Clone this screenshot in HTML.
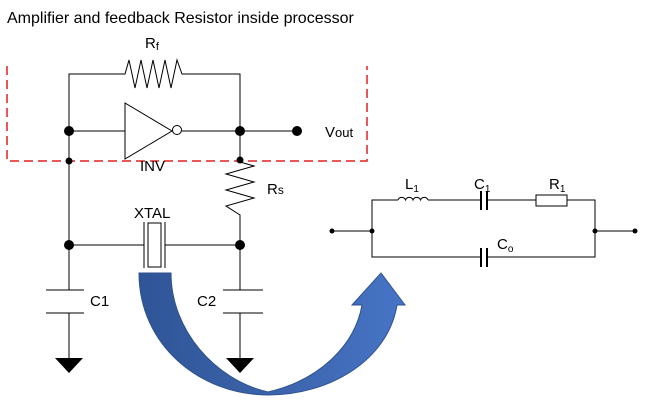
<!DOCTYPE html>
<html><head><meta charset="utf-8"><style>
body{margin:0;background:#fff;width:645px;height:402px;overflow:hidden}
svg{display:block}
text{font-family:"Liberation Sans","DejaVu Sans",sans-serif;fill:#000}
</style></head><body>
<svg width="645" height="402" viewBox="0 0 645 402">
<defs><linearGradient id="g" x1="0" x2="1" y1="0" y2="0"><stop offset="0" stop-color="#2f5597"/><stop offset="0.45" stop-color="#3a62a8"/><stop offset="1" stop-color="#4774c6"/></linearGradient></defs>
<text x="7" y="23" font-size="16">Amplifier and feedback Resistor inside processor</text>
<g stroke="#000" stroke-width="1" fill="none">
<polyline points="69,131 69,74 125,74 129,60 135,88 141,60 147,88 153,60 159,88 165,60 171,88 177,60 182,74 240,74 240,131"/>
<line x1="69" y1="131" x2="125" y2="131"/>
<polygon points="125,103 125,159 172,131"/>
<circle cx="177" cy="130" r="4.5" fill="#fff"/>
<line x1="182" y1="131" x2="297" y2="131"/>
<line x1="69" y1="131" x2="69" y2="290"/>
<line x1="69" y1="313" x2="69" y2="360"/>
<polyline points="240,131 240,162 254,166 226,174 254,182 226,190 254,198 226,206 240,215 240,290"/>
<line x1="240" y1="313" x2="240" y2="360"/>
<line x1="69" y1="245" x2="144" y2="245"/>
<line x1="165" y1="245" x2="240" y2="245"/>
<line x1="144" y1="222" x2="144" y2="268"/>
<line x1="165" y1="222" x2="165" y2="268"/>
<rect x="148" y="223" width="13" height="44"/>
<line x1="46" y1="290" x2="84" y2="290"/><line x1="46" y1="313" x2="84" y2="313"/>
<line x1="223" y1="290" x2="263" y2="290"/><line x1="223" y1="313" x2="263" y2="313"/>
</g>
<polyline points="7,66 7,161 367,161 367,66" fill="none" stroke="#e02020" stroke-width="1.5" stroke-dasharray="9,5"/>
<g fill="#000">
<circle cx="69" cy="131" r="5"/><circle cx="240" cy="131" r="5"/><circle cx="297" cy="131" r="5"/>
<circle cx="69" cy="161" r="3.5"/><circle cx="240" cy="160" r="3.5"/>
<circle cx="69" cy="245" r="5"/><circle cx="240" cy="245" r="5"/>
<polygon points="55,358 83,358 69,373"/><polygon points="226,358 254,358 240,373"/>
</g>
<text x="145" y="48" font-size="15">R<tspan font-size="11" dy="2">f</tspan></text>
<text x="325" y="137" font-size="15">V<tspan font-size="13">out</tspan></text>
<text x="140" y="171" font-size="15">INV</text>
<text x="267" y="194" font-size="15">R<tspan font-size="12">s</tspan></text>
<text x="134" y="218" font-size="15">XTAL</text>
<text x="90" y="306" font-size="15">C1</text>
<text x="197" y="306" font-size="15">C2</text>
<path d="M139,273 L171,273 C171,330 215,380 268,392 C320,380 355,345 362,305 L352,305 L381,273 L405,305 L397,305 C388,360 330,395 268,395 C200,395 139,345 139,273 Z" fill="url(#g)" stroke="#2f528f" stroke-width="1"/>
<g stroke="#000" stroke-width="1" fill="none">
<line x1="332" y1="231" x2="372" y2="231"/><line x1="595" y1="231" x2="635" y2="231"/>
<polyline points="372,231 372,200 398,200"/>
<path d="M398,200 a4,4 0 0 1 7.5,0 a4,4 0 0 1 7.5,0 a4,4 0 0 1 7.5,0 a4,4 0 0 1 7.5,0"/>
<line x1="428" y1="200" x2="481" y2="200"/>
<line x1="481" y1="191" x2="481" y2="210" stroke-width="2"/><line x1="487" y1="191" x2="487" y2="210" stroke-width="2"/>
<line x1="487" y1="200" x2="536" y2="200"/>
<rect x="536" y="195" width="31" height="11"/>
<polyline points="567,200 595,200 595,257 487,257"/>
<polyline points="372,231 372,257 481,257"/>
<line x1="481" y1="248" x2="481" y2="267" stroke-width="2"/><line x1="487" y1="248" x2="487" y2="267" stroke-width="2"/>
</g>
<g fill="#000"><circle cx="332" cy="231" r="2.5"/><circle cx="372" cy="231" r="2.5"/><circle cx="595" cy="231" r="2.5"/><circle cx="635" cy="231" r="2.5"/></g>
<text x="405" y="189" font-size="15">L<tspan font-size="10" dy="3">1</tspan></text>
<text x="474" y="189" font-size="15">C<tspan font-size="10" dy="3">1</tspan></text>
<text x="549" y="189" font-size="15">R<tspan font-size="10" dy="3">1</tspan></text>
<text x="497" y="249" font-size="15">C<tspan font-size="10" dy="3">o</tspan></text>
</svg>
</body></html>
